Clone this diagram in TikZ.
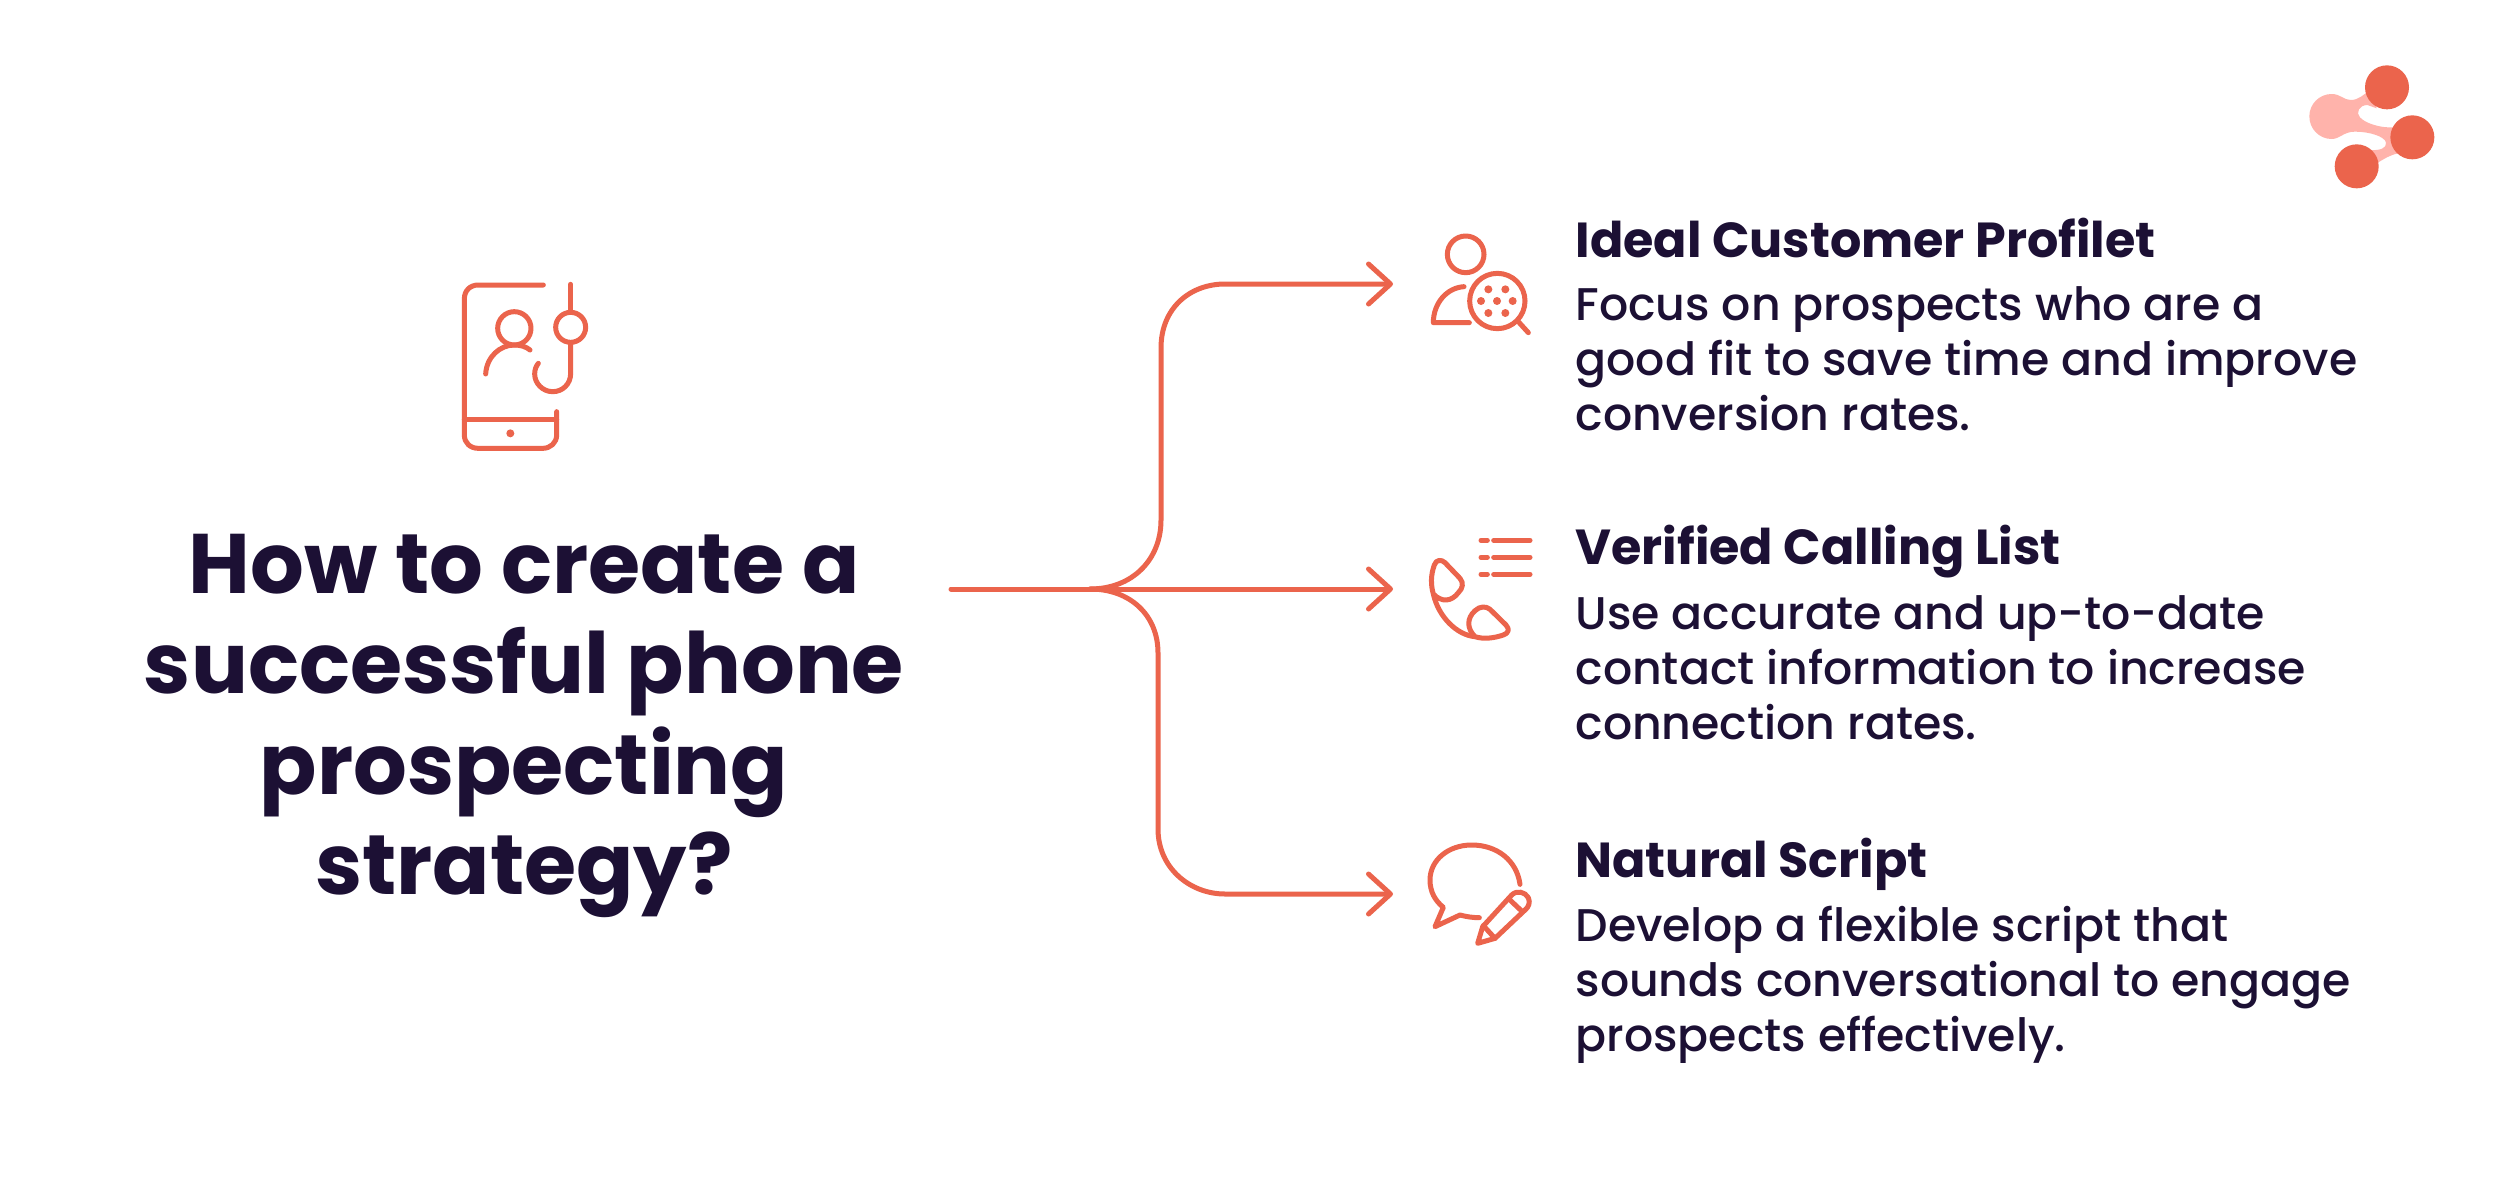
\documentclass[tikz,border=0pt]{standalone}
\usepackage{fontspec}
\setmainfont{Poppins}[UprightFont=* Medium,BoldFont=* Bold]
\definecolor{coral}{HTML}{EB644C}
\definecolor{pale}{HTML}{FFB3AB}
\definecolor{ink}{HTML}{1C1034}
\tikzset{
 ln/.style={draw=coral,line width=5pt,line cap=round,line join=round},
 ic/.style={draw=coral,line width=5pt,line cap=round,line join=round},
 titletext/.style={text=ink,font=\fontsize{84.5}{100}\selectfont\bfseries,anchor=base},
 headtext/.style={text=ink,font=\fontsize{49.2}{55}\selectfont\bfseries,anchor=base west},
 bodytext/.style={text=ink,font=\fontsize{45.8}{55}\selectfont,anchor=base west},
 tiparrow/.style={ln,-{Straight Barb[length=22pt,width=40pt,line width=5pt,round]}},
}
\usetikzlibrary{arrows.meta}
\begin{document}
\begin{tikzpicture}[x=1pt,y=-1pt]
\useasboundingbox (0,0) rectangle (2500,1194);
\fill[white] (0,0) rectangle (2500,1194);
% title
\node[titletext] (t1) at (524,593) {How to create a};
\node[titletext] (t2) at (524,693) {successful phone};
\node[titletext] (t3) at (524,794) {prospecting};
\node[titletext] (t4) at (524,894) {strategy?};
% right column
\node[headtext] (h1) at (1572,257) {Ideal Customer Profilet};
\node[bodytext] (b11) at (1572,320) {Focus on prospects who are a};
\node[bodytext] (b12) at (1572,375) {good fit to save time and improve};
\node[bodytext] (b13) at (1572,430) {conversion rates.};
\node[headtext] (h2) at (1572,564) {Verified Calling List};
\node[bodytext] (b21) at (1572,629) {Use accurate and up-to-date};
\node[bodytext] (b22) at (1572,684) {contact information to increase};
\node[bodytext] (b23) at (1572,739) {connection rates.};
\node[headtext] (h3) at (1572,877) {Natural Script};
\node[bodytext] (b31) at (1572,941) {Develop a flexible script that};
\node[bodytext] (b32) at (1572,996) {sounds conversational to engage};
\node[bodytext] (b33) at (1572,1051) {prospects effectively.};
% connectors
\coordinate (start) at (951,589);
\coordinate (fork) at (1090,589);
\coordinate (tip1) at (1393,284);
\coordinate (tip2) at (1393,589);
\coordinate (tip3) at (1393,894);
\draw[tiparrow] (start) -- (tip2);
\draw[tiparrow] (fork) .. controls (1132,589) and (1161,560) .. (1161,520) -- (1161,348) .. controls (1161,308) and (1190,284) .. (1225,284) -- (tip1);
\draw[tiparrow] (fork) .. controls (1130,589) and (1158,615) .. (1158,653) -- (1158,829) .. controls (1158,868) and (1190,894) .. (1225,894) -- (tip3);
% phone icon
\begin{scope}[shift={(430,260)},x=1/3*1pt,y=-1/3*1pt]
\draw[ic] (340,75) -- (145,75) .. controls (120,75) and (103,92) .. (103,117) -- (103,525) .. controls (103,548) and (120,565) .. (145,565) -- (338,565) .. controls (362,565) and (380,548) .. (380,525) -- (380,455);
\draw[ic] (103,478) -- (380,478);
\fill[coral] (241,520) circle (12);
\draw[ic] (253,205) circle (50);
\draw[ic] (167,342) .. controls (170,290) and (210,255) .. (253,255) .. controls (272,255) and (288,260) .. (300,270);
\draw[ic] (422,73) -- (422,155);
\draw[ic] (422,202) circle (45);
\draw[ic] (422,248) -- (422,340) .. controls (422,372) and (398,395) .. (368,395) .. controls (338,395) and (314,370) .. (314,342) .. controls (314,330) and (318,318) .. (325,310);
\end{scope}
% logo
\begin{scope}[shift={(2280,40)},x=1/3*1pt,y=-1/3*1pt]
\fill[pale] (155,162) .. controls (182,162) and (190,180) .. (212,180) .. controls (235,180) and (250,165) .. (270,150) -- (290,205) -- (262,195) .. controls (238,195) and (226,218) .. (240,232) .. controls (255,250) and (300,262) .. (325,262) -- (350,262) -- (355,340) .. controls (330,345) and (315,355) .. (290,370) -- (270,330) .. controls (300,332) and (320,325) .. (318,308) .. controls (315,290) and (270,275) .. (225,275) .. controls (190,275) and (180,297) .. (155,297) .. controls (118,297) and (88,267) .. (88,229) .. controls (88,192) and (118,162) .. (155,162) -- cycle;
\fill[coral] (321,142) circle (66);
\fill[coral] (397,292) circle (66);
\fill[coral] (230,379) circle (66);
\end{scope}
% profile icon
\begin{scope}[shift={(1400,220)},x=1/3*1pt,y=-1/3*1pt]
\draw[ic] (197,103) circle (55);
\draw[ic] (192,200) .. controls (140,203) and (100,250) .. (100,308) -- (208,308);
\draw[ic] (292,243) circle (83);
\draw[ic] (355,305) -- (385,338);
\foreach \p in {(265,208),(316,208),(243,243),(291,243),(338,243),(265,279),(316,279)} \fill[coral] \p circle (12);
\end{scope}
% call icon
\begin{scope}[shift={(1400,520)},x=1/3*1pt,y=-1/3*1pt]
\foreach \y in {61,112,163} {\draw[ic] (243,\y) -- (262,\y); \draw[ic] (281,\y) -- (390,\y);}
\draw[ic] (100,222) .. controls (92,195) and (92,165) .. (103,135) .. controls (108,118) and (125,118) .. (135,128) -- (180,175) .. controls (192,190) and (188,205) .. (175,218) .. controls (155,245) and (125,248) .. (100,222) .. controls (115,290) and (170,345) .. (225,350) .. controls (200,325) and (200,295) .. (225,272) .. controls (240,258) and (258,258) .. (270,268) -- (318,315) .. controls (330,328) and (325,340) .. (310,345) .. controls (280,355) and (250,358) .. (225,350);
\end{scope}
% script icon
\begin{scope}[shift={(1400,830)},x=1/3*1pt,y=-1/3*1pt]
\draw[ic] (360,163) .. controls (350,90) and (290,45) .. (215,45) .. controls (145,45) and (90,90) .. (90,150) .. controls (90,185) and (105,212) .. (130,232) -- (105,290) -- (180,255) .. controls (198,260) and (218,263) .. (238,263);
\draw[ic] (233,340) -- (248,290) -- (335,195) .. controls (350,180) and (375,185) .. (385,203) .. controls (392,218) and (385,232) .. (375,240) -- (285,325) -- cycle;
\draw[ic] (250,287) -- (285,325);
\draw[ic] (330,210) -- (367,245);
\end{scope}
\end{tikzpicture}
\end{document}
